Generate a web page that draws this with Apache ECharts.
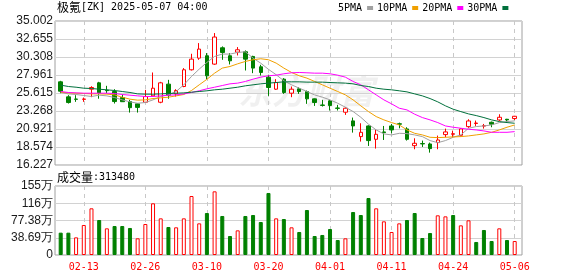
<!DOCTYPE html>
<html><head><meta charset="utf-8">
<script src="https://cdn.jsdelivr.net/npm/echarts@6/dist/echarts.min.js"></script>
<style>html,body{margin:0;padding:0;background:#fff;}#c{width:578px;height:276px;}</style>
</head><body><div id="c"></div>
<script>
const dates = ['02-10','02-11','02-12','02-13','02-14','02-18','02-19','02-20','02-21','02-24','02-25','02-26','02-27','02-28','03-03','03-04','03-05','03-06','03-07','03-10','03-11','03-12','03-13','03-14','03-17','03-18','03-19','03-20','03-21','03-24','03-25','03-26','03-27','03-28','03-31','04-01','04-02','04-03','04-04','04-07','04-08','04-09','04-10','04-11','04-14','04-15','04-16','04-17','04-21','04-22','04-23','04-24','04-25','04-28','04-29','04-30','05-01','05-02','05-05','05-06'];
const opens  = [27.07,25.11,24.83,24.79,26.11,26.94,25.97,25.81,25.02,24.50, 24.20,24.41,25.24,24.41,26.77,25.50,26.46,28.64,30.16,30.47, 29.38,31.51,30.47,30.94,30.99,30.38,29.03,27.68,26.11,27.42, 25.59,26.16,25.81,24.85,24.05,24.59,23.66,23.11,21.98,19.93, 21.32,19.58,20.54,21.32,21.60,20.93,18.75,19.02,18.97,19.15, 20.19,20.24,20.10,21.23,21.64,21.30,21.80,22.10,22.19,22.28];
const closes = [25.85,24.37,24.79,24.83,26.33,25.63,25.92,24.50,24.48,23.70, 23.74,25.15,26.24,26.94,25.33,25.94,28.64,30.03,31.34,27.85, 32.91,30.90,29.81,31.25,30.03,28.86,28.29,26.33,26.98,25.68, 26.11,25.81,24.85,24.37,24.00,23.98,23.61,23.63,21.32,20.49, 19.41,20.23,20.45,20.80,21.55,19.58,19.06,18.98,18.36,19.49, 20.54,20.30,20.93,21.97,21.70,21.36,21.54,22.45,22.10,22.58];
const lows   = [25.59,24.24,24.46,24.46,25.07,24.87,25.59,24.24,24.46,23.06, 23.06,24.37,25.15,24.28,24.87,25.15,26.37,28.55,29.94,27.42, 29.29,29.94,29.34,30.51,28.55,28.20,27.90,25.24,26.02,25.50, 25.07,25.50,24.20,23.93,23.85,23.33,23.33,22.76,20.45,19.28, 18.71,18.37,19.49,20.36,21.01,19.41,18.28,18.58,17.84,18.28, 19.84,19.84,19.93,21.06,21.32,20.97,21.15,21.97,21.75,22.10];
const highs  = [27.20,25.33,25.33,25.02,26.50,27.07,26.55,26.11,25.42,24.72, 24.28,26.02,28.29,27.07,27.33,26.11,28.86,30.73,32.12,30.82, 33.43,31.69,30.82,31.60,31.17,30.47,29.29,27.99,27.42,27.55, 26.46,26.37,25.94,24.89,24.72,24.72,24.07,23.76,22.41,21.67, 21.40,20.89,21.32,21.58,21.75,21.15,19.71,19.41,19.15,20.06, 20.97,20.71,21.02,22.19,22.02,21.58,21.89,22.84,22.24,22.63];
const ma5  = [25.68,25.50,25.42,25.29,25.16,25.33,25.24,25.02,24.72,24.46, 24.28,24.37,24.72,25.16,25.37,25.81,26.68,27.77,28.73,29.60, 30.38,30.69,30.69,30.90,30.99,30.16,29.50,28.70,28.00,27.20, 26.68,26.24,25.81,25.37,25.07,24.72,24.28,23.76,23.20,22.45, 21.55,20.80,20.28,20.15,20.36,20.32,20.15,19.93,19.41,19.14, 19.41,19.84,20.15,21.02,21.24,21.32,21.45,21.76,21.89,21.98];
const ma10 = [25.72,25.63,25.59,25.55,25.50,25.50,25.46,25.37,25.07,24.81, 24.68,24.72,24.89,24.98,25.07,25.24,25.42,25.94,26.68,27.40, 28.20,28.86,29.07,29.42,29.73,29.95,30.08,29.95,29.51,28.86, 28.29,27.86,27.55,27.12,26.68,26.24,25.81,25.37,24.72,23.94, 23.19,22.54,22.11,21.76,21.45,20.80,20.36,20.15,19.84,19.80, 19.84,19.89,19.93,20.02,20.15,20.28,20.49,20.80,21.15,21.45];
const ma20 = [25.81,25.68,25.63,25.59,25.59,25.59,25.59,25.55,25.42,25.33, 25.24,25.16,25.16,25.24,25.33,25.37,25.50,25.68,25.90,26.16, 26.37,26.59,26.81,26.90,27.12,27.42,27.68,27.86,27.94,28.12, 28.25,28.29,28.25,28.20,28.20,28.12,27.94,27.68,27.12,26.68, 26.03,25.37,24.72,24.20,23.63,23.41,22.85,22.41,22.11,21.76, 21.32,21.15,21.02,20.89,20.80,20.67,20.49,20.49,20.49,20.58];
const ma30 = [26.64,26.46,26.37,26.24,26.20,26.11,26.03,25.94,25.81,25.68, 25.50,25.46,25.46,25.50,25.55,25.59,25.63,25.72,25.81,25.90, 26.03,26.11,26.24,26.37,26.55,26.68,26.81,26.90,26.98,27.07, 27.07,27.07,27.03,27.03,27.03,26.98,26.94,26.90,26.81,26.59, 26.46,26.24,26.11,26.03,25.90,25.76,25.50,25.24,24.89,24.46, 23.94,23.50,23.19,22.89,22.67,22.41,22.11,21.89,21.76,21.67];
const volumes = [501000,501000,396000,673000,1047000,785000,598000,650000,650000,606000, 374000,695000,1159000,822000,628000,621000,822000,1323000,710000,942000, 1428000,875000,426000,553000,875000,897000,740000,1391000,822000,807000, 621000,516000,1009000,426000,449000,583000,336000,374000,964000,897000, 1278000,1047000,755000,516000,710000,785000,942000,381000,493000,890000, 867000,897000,665000,778000,292000,561000,314000,598000,336000,313480];
const volUp = [0,0,1,1,1,0,1,0,0,0, 1,1,1,1,0,1,1,1,1,0, 1,0,0,1,0,0,0,0,1,0, 1,0,0,0,0,0,0,1,0,0, 0,1,1,1,1,0,0,0,0,1, 1,0,1,1,0,0,0,1,0,1];
const priceTicks = ['16.227','18.574','20.921','23.268','25.615','27.961','30.308','32.655','35.002'];
const volTicks = ['0','38.69万','77.38万','116万','155万'];
const priceMin = 16.227, priceMax = 35.002, volMax = 1547600;
const seriesNames = ['5PMA','10PMA','20PMA','30PMA'];
const titleText = '极氪[ZK] 2025-05-07 04:00';
const volTitle = '成交量:313480';

const UP = '#ff0000', DOWN = '#008000';
const MONO = '"DejaVu Sans Mono", monospace';
const CJK = '"Noto Sans CJK SC"';
const labelPick = (i) => i % 8 === 3;

const chart = echarts.init(document.getElementById('c'), null, {renderer: 'canvas'});
const candleData = dates.map((d, i) => [opens[i], closes[i], lows[i], highs[i]]);
const volData = volumes.map((v, i) => ({
  value: v,
  itemStyle: volUp[i] ? {color: '#ffffff', borderColor: UP, borderWidth: 1}
                      : {color: DOWN, borderColor: DOWN, borderWidth: 1}
}));
const splitTitle = (s) => {
  const m = s.match(/^([^\x00-\x7f]+)(.*)$/);
  return '{a|' + m[1] + '}{b|' + m[2] + '}';
};
const richT = {
  a: {fontFamily: CJK, fontSize: 12, color: '#000', fontWeight: 'normal'},
  b: {fontFamily: MONO, fontSize: 10, color: '#000', fontWeight: 'normal'}
};
const frameLabel = {color: '#1a1a1a', fontFamily: 'Liberation Sans', fontSize: 12, margin: 2};
const dash = {show: true, interval: labelPick, lineStyle: {color: '#c8c8c8', type: [4, 4], width: 1}};

chart.setOption({
  animation: false,
  backgroundColor: '#fff',
  title: [
    {left: 57, top: 1, padding: 0, text: splitTitle(titleText), textStyle: {fontWeight: 'normal', rich: richT}},
    {left: 57, top: 171, padding: 0, text: splitTitle(volTitle), textStyle: {fontWeight: 'normal', rich: richT}}
  ],
  legend: {
    data: seriesNames, left: 338, top: 3, padding: 0, align: 'right', icon: 'rect',
    itemWidth: 6, itemHeight: 4, itemGap: 4,
    textStyle: {fontFamily: MONO, fontSize: 10, color: '#000'}
  },
  graphic: [{
    type: 'text', left: 238, top: 74, z: 0, silent: true,
    style: {text: '东方财富', font: 'italic bold 34px "Noto Sans CJK SC"', fill: 'rgba(0,0,0,0.06)'}
  }],
  grid: [
    {left: 55, top: 21, width: 467, height: 144, show: true, borderColor: '#a0a0a0', borderWidth: 1, backgroundColor: 'transparent'},
    {left: 60.7, top: 21, width: 454, height: 144},
    {left: 55, top: 186, width: 467, height: 69, show: true, borderColor: '#a0a0a0', borderWidth: 1, backgroundColor: 'transparent'},
    {left: 60.7, top: 186, width: 454, height: 69}
  ],
  xAxis: [
    {gridIndex: 0, type: 'value', min: 0, max: 1, show: false},
    {gridIndex: 1, type: 'category', data: dates, boundaryGap: false,
     axisLine: {show: false}, axisTick: {show: false}, axisLabel: {show: false}, splitLine: dash},
    {gridIndex: 2, type: 'value', min: 0, max: 1, show: false},
    {gridIndex: 3, type: 'category', data: dates, boundaryGap: false,
     axisLine: {show: false}, axisTick: {show: false},
     axisLabel: {show: true, interval: labelPick, color: '#ff0000', fontFamily: MONO, fontSize: 10, margin: 7},
     splitLine: dash}
  ],
  yAxis: [
    {gridIndex: 0, type: 'value', min: 0, max: priceTicks.length - 1, interval: 1,
     axisLine: {show: false}, axisTick: {show: false},
     axisLabel: Object.assign({formatter: (v) => priceTicks[v]}, frameLabel),
     splitLine: {show: true, lineStyle: {color: '#d2d2d2', width: 1}}},
    {gridIndex: 1, type: 'value', min: priceMin, max: priceMax, show: false, splitLine: {show: false}},
    {gridIndex: 2, type: 'value', min: 0, max: volTicks.length - 1, interval: 1,
     axisLine: {show: false}, axisTick: {show: false},
     axisLabel: Object.assign({formatter: (v) => volTicks[v]}, frameLabel),
     splitLine: {show: true, lineStyle: {color: '#d2d2d2', width: 1}}},
    {gridIndex: 3, type: 'value', min: 0, max: volMax, show: false, splitLine: {show: false}}
  ],
  series: [
    {type: 'candlestick', name: 'K', xAxisIndex: 1, yAxisIndex: 1, data: candleData, barWidth: 4, clip: false,
     itemStyle: {color: '#ffffff', color0: DOWN, borderColor: UP, borderColor0: DOWN, borderWidth: 1}},
    {type: 'line', name: seriesNames[0], xAxisIndex: 1, yAxisIndex: 1, data: ma5, symbol: 'none', color: '#a0a0a0', lineStyle: {width: 1}},
    {type: 'line', name: seriesNames[1], xAxisIndex: 1, yAxisIndex: 1, data: ma10, symbol: 'none', color: '#f0a000', lineStyle: {width: 1}},
    {type: 'line', name: seriesNames[2], xAxisIndex: 1, yAxisIndex: 1, data: ma20, symbol: 'none', color: '#ff00ff', lineStyle: {width: 1}},
    {type: 'line', name: seriesNames[3], xAxisIndex: 1, yAxisIndex: 1, data: ma30, symbol: 'none', color: '#00703c', lineStyle: {width: 1}},
    {type: 'bar', name: 'VOL', xAxisIndex: 3, yAxisIndex: 3, data: volData, barWidth: 4, clip: false}
  ]
});
</script></body></html>
